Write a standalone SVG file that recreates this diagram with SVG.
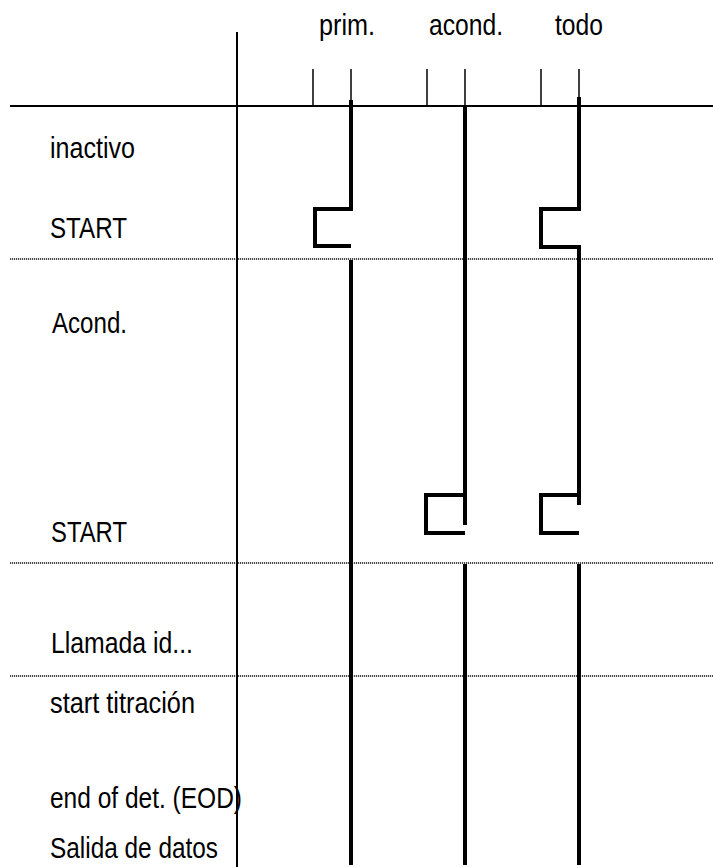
<svg xmlns="http://www.w3.org/2000/svg" width="713" height="867" viewBox="0 0 713 867">
<style>
text{font-family:"Liberation Sans",Arial,sans-serif;font-size:29px;fill:#000}
.thin{stroke:#000;stroke-width:1.5;fill:none}
.axis{stroke:#000;stroke-width:2;fill:none}
.dot{stroke:#111;stroke-width:1.6;stroke-dasharray:1.2 0.8;fill:none}
.sig{stroke:#000;stroke-width:4;fill:none;stroke-linejoin:miter;stroke-linecap:butt}
</style>
<rect width="713" height="867" fill="#fff"/>
<g id="grid">
<line class="axis" x1="237" y1="32" x2="237" y2="867"/>
<line class="axis" x1="10" y1="106" x2="713" y2="106"/>
<line class="dot" x1="10" y1="259" x2="713" y2="259"/>
<line class="dot" x1="10" y1="563" x2="713" y2="563"/>
<line class="dot" x1="10" y1="676" x2="713" y2="676"/>
<line class="thin" x1="313" y1="69" x2="313" y2="106"/>
<line class="thin" x1="351" y1="69" x2="351" y2="106"/>
<line class="thin" x1="427" y1="69" x2="427" y2="106"/>
<line class="thin" x1="465" y1="69" x2="465" y2="106"/>
<line class="thin" x1="541" y1="69" x2="541" y2="106"/>
<line class="thin" x1="579" y1="69" x2="579" y2="106"/>
</g>
<g id="headers">
<text x="319" y="35" textLength="56" lengthAdjust="spacingAndGlyphs">prim.</text>
<text x="429" y="35" textLength="74" lengthAdjust="spacingAndGlyphs">acond.</text>
<text x="555" y="35" textLength="48" lengthAdjust="spacingAndGlyphs">todo</text>
</g>
<g id="labels">
<text x="50" y="158" textLength="85" lengthAdjust="spacingAndGlyphs">inactivo</text>
<text x="50" y="238" textLength="77" lengthAdjust="spacingAndGlyphs">START</text>
<text x="52" y="333" textLength="75" lengthAdjust="spacingAndGlyphs">Acond.</text>
<text x="51" y="542" textLength="76" lengthAdjust="spacingAndGlyphs">START</text>
<text x="51" y="653" textLength="142" lengthAdjust="spacingAndGlyphs">Llamada id...</text>
<text x="50" y="713" textLength="145" lengthAdjust="spacingAndGlyphs">start titración</text>
<text x="50" y="808" textLength="192" lengthAdjust="spacingAndGlyphs">end of det. (EOD)</text>
<text x="50" y="858" textLength="168" lengthAdjust="spacingAndGlyphs">Salida de datos</text>
</g>
<g id="signal-prim">
<path class="sig" d="M351,100 V209 H315 V246 H351"/>
<path class="sig" d="M351,260 V865"/>
</g>
<g id="signal-acond">
<path class="sig" d="M465,107 V525"/>
<path class="sig" d="M465,495 H426 V533 H465"/>
<path class="sig" d="M465,564 V865"/>
</g>
<g id="signal-todo">
<path class="sig" d="M579,97 V209 H541 V247 H579 V505"/>
<path class="sig" d="M579,495 H541 V533 H579"/>
<path class="sig" d="M579,564 V865"/>
</g>
</svg>
